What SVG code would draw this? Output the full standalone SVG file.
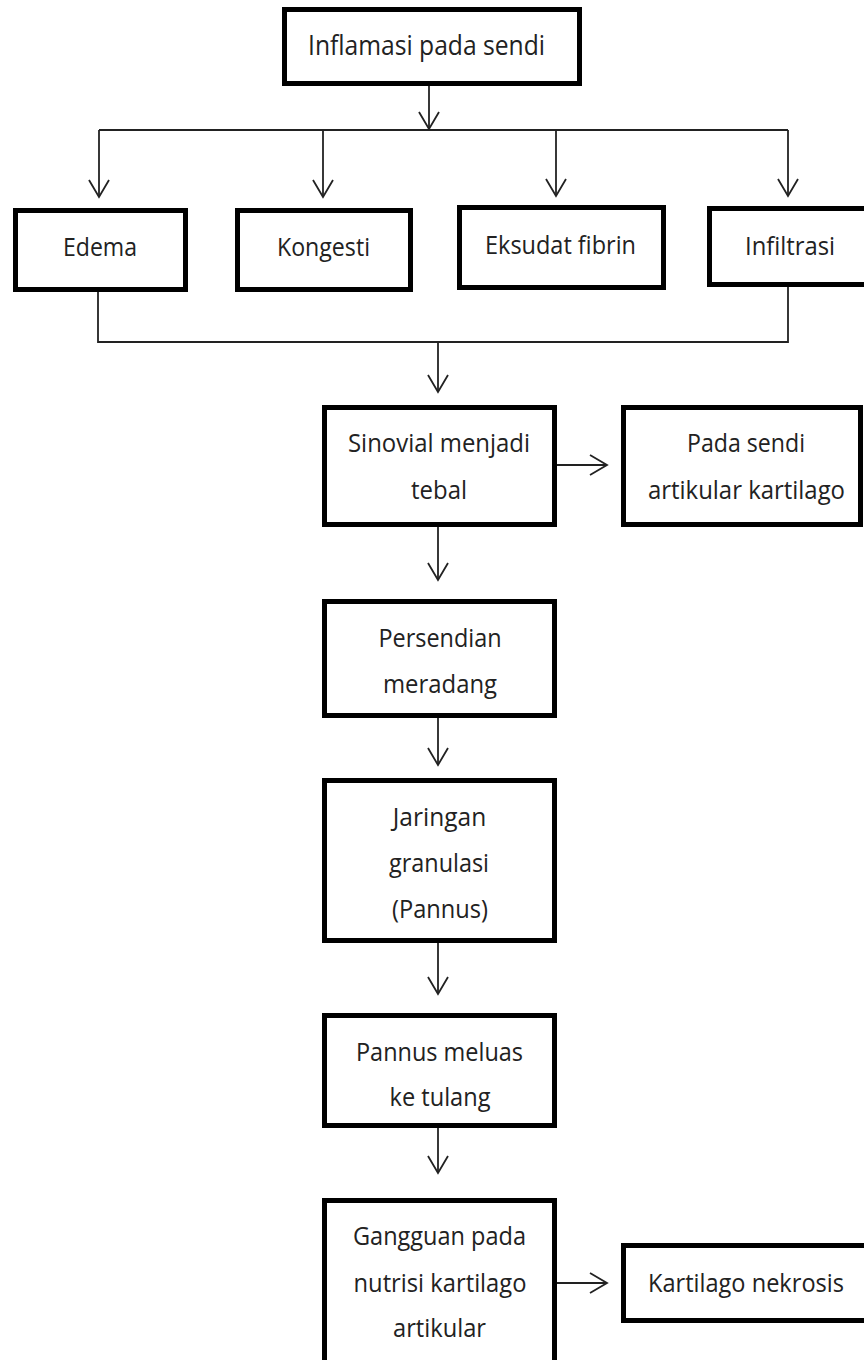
<svg xmlns="http://www.w3.org/2000/svg" width="864" height="1360" viewBox="0 0 864 1360">
<style>
.box{fill:#fff;stroke:#000;stroke-width:5}
.t{font-family:"Open Sans","Noto Sans","Liberation Sans",sans-serif;font-size:26px;fill:#222;text-anchor:middle}
.c{fill:none;stroke:#222;stroke-width:1.8}
.a{marker-end:url(#arr)}
</style>
<defs>
<marker id="arr" markerUnits="userSpaceOnUse" viewBox="0 0 20 22" refX="18" refY="11" markerWidth="20" markerHeight="22" orient="auto">
<path d="M1,1 L18,11 L1,21" fill="none" stroke="#222" stroke-width="1.8"/>
</marker>
</defs>
<rect width="864" height="1360" fill="#fff"/>
<g id="connectors">
<line class="c a" x1="429" y1="86" x2="429" y2="129"/>
<line class="c" x1="99" y1="130" x2="788" y2="130"/>
<line class="c a" x1="99" y1="130" x2="99" y2="197"/>
<line class="c a" x1="323" y1="130" x2="323" y2="197"/>
<line class="c a" x1="556" y1="130" x2="556" y2="196"/>
<line class="c a" x1="788" y1="130" x2="788" y2="196"/>
<polyline class="c" points="98,292 98,342 788,342 788,287"/>
<line class="c a" x1="438" y1="342" x2="438" y2="392"/>
<line class="c a" x1="557" y1="465" x2="607" y2="465"/>
<line class="c a" x1="438" y1="527" x2="438" y2="580"/>
<line class="c a" x1="438" y1="718" x2="438" y2="765"/>
<line class="c a" x1="438" y1="943" x2="438" y2="994"/>
<line class="c a" x1="438" y1="1128" x2="438" y2="1173"/>
<line class="c a" x1="557" y1="1283" x2="607" y2="1283"/>
</g>
<g id="n-inflamasi">
<rect class="box" x="284.5" y="9.5" width="295" height="74"/>
<text class="t" x="426.5" y="55" textLength="237" lengthAdjust="spacingAndGlyphs" style="font-size:27px">Inflamasi pada sendi</text>
</g>
<g id="n-edema">
<rect class="box" x="15.5" y="210.5" width="170" height="79"/>
<text class="t" x="100" y="256" textLength="74" lengthAdjust="spacingAndGlyphs">Edema</text>
</g>
<g id="n-kongesti">
<rect class="box" x="237.5" y="210.5" width="173" height="79"/>
<text class="t" x="323.5" y="256" textLength="93" lengthAdjust="spacingAndGlyphs">Kongesti</text>
</g>
<g id="n-eksudat">
<rect class="box" x="459.5" y="207.5" width="204" height="80"/>
<text class="t" x="560.5" y="254" textLength="151" lengthAdjust="spacingAndGlyphs">Eksudat fibrin</text>
</g>
<g id="n-infiltrasi">
<rect class="box" x="709.5" y="208.5" width="160" height="76"/>
<text class="t" x="790" y="255" textLength="90" lengthAdjust="spacingAndGlyphs">Infiltrasi</text>
</g>
<g id="n-sinovial">
<rect class="box" x="324.5" y="407.5" width="230" height="117"/>
<text class="t" x="439" y="452" textLength="182" lengthAdjust="spacingAndGlyphs">Sinovial menjadi</text>
<text class="t" x="439" y="499" textLength="56" lengthAdjust="spacingAndGlyphs">tebal</text>
</g>
<g id="n-pada-sendi">
<rect class="box" x="623.5" y="407.5" width="237" height="117"/>
<text class="t" x="746" y="452" textLength="118" lengthAdjust="spacingAndGlyphs">Pada sendi</text>
<text class="t" x="746.5" y="499" textLength="197" lengthAdjust="spacingAndGlyphs">artikular kartilago</text>
</g>
<g id="n-persendian">
<rect class="box" x="324.5" y="601.5" width="230" height="114"/>
<text class="t" x="440" y="647" textLength="123" lengthAdjust="spacingAndGlyphs">Persendian</text>
<text class="t" x="440" y="693" textLength="114" lengthAdjust="spacingAndGlyphs">meradang</text>
</g>
<g id="n-jaringan">
<rect class="box" x="324.5" y="780.5" width="230" height="160"/>
<text class="t" x="439.5" y="826" textLength="93.5" lengthAdjust="spacingAndGlyphs">Jaringan</text>
<text class="t" x="439" y="872" textLength="100" lengthAdjust="spacingAndGlyphs">granulasi</text>
<text class="t" x="440" y="918" textLength="96" lengthAdjust="spacingAndGlyphs">(Pannus)</text>
</g>
<g id="n-pannus-meluas">
<rect class="box" x="324.5" y="1015.5" width="230" height="110"/>
<text class="t" x="439.5" y="1061" textLength="167" lengthAdjust="spacingAndGlyphs">Pannus meluas</text>
<text class="t" x="440" y="1106" textLength="101" lengthAdjust="spacingAndGlyphs">ke tulang</text>
</g>
<g id="n-gangguan">
<rect class="box" x="324.5" y="1200.5" width="230" height="200"/>
<text class="t" x="439.5" y="1245" textLength="173" lengthAdjust="spacingAndGlyphs">Gangguan pada</text>
<text class="t" x="440" y="1292" textLength="173" lengthAdjust="spacingAndGlyphs">nutrisi kartilago</text>
<text class="t" x="439.5" y="1337" textLength="93" lengthAdjust="spacingAndGlyphs">artikular</text>
</g>
<g id="n-nekrosis">
<rect class="box" x="623.5" y="1245.5" width="250" height="75"/>
<text class="t" x="746" y="1292" textLength="196" lengthAdjust="spacingAndGlyphs">Kartilago nekrosis</text>
</g>
</svg>
